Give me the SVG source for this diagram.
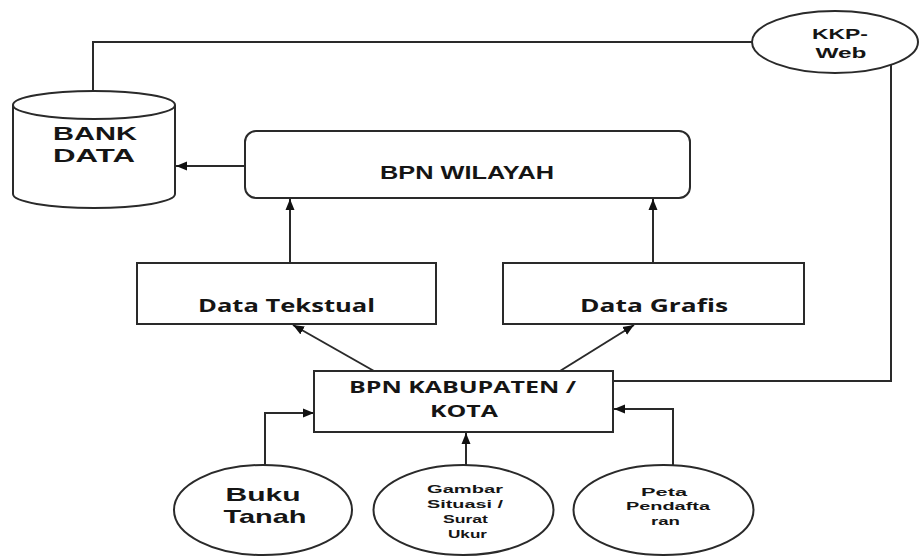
<svg xmlns="http://www.w3.org/2000/svg" width="919" height="556" viewBox="0 0 919 556">
<defs>
<marker id="ah" markerUnits="userSpaceOnUse" markerWidth="12" markerHeight="10" refX="11" refY="5" orient="auto">
<path d="M0,0.5 L11,5 L0,9.5 z" fill="#111"/>
</marker>
<style>
.s{fill:#fff;stroke:#2a2a2a;stroke-width:2}
.c{fill:none;stroke:#2a2a2a;stroke-width:2}
.a{fill:none;stroke:#2a2a2a;stroke-width:2;marker-end:url(#ah)}
.t{font-family:"Liberation Sans",Arial,sans-serif;font-weight:bold;fill:#151515;text-anchor:middle}
.o{font-family:"Open Sans","Liberation Sans",sans-serif;font-weight:bold;fill:#151515;text-anchor:middle}
</style>
</defs>
<rect width="919" height="556" fill="#fff"/>
<g id="connectors">
<polyline class="c" points="93,91 93,42 760,42"/>
<polyline class="c" points="891,64 891,381 613,381"/>
<line class="a" x1="245" y1="166" x2="176" y2="166"/>
<line class="a" x1="290" y1="263" x2="290" y2="199"/>
<line class="a" x1="653" y1="263" x2="653" y2="199"/>
<line class="a" x1="374" y1="371" x2="293" y2="325"/>
<line class="a" x1="560" y1="371" x2="634" y2="325"/>
<polyline class="a" points="265,465 265,413 314,413"/>
<line class="a" x1="466" y1="465" x2="466" y2="433"/>
<polyline class="a" points="673,465 673,409 614,409"/>
</g>
<g id="bank-data">
<path class="s" d="M13,105 L13,194 A81,14 0 0 0 175,194 L175,105 A81,14 0 0 0 13,105 Z"/>
<path class="c" d="M13,105 A81,14 0 0 0 175,105"/>
<text class="t" x="95" y="140" font-size="18" textLength="84" lengthAdjust="spacingAndGlyphs">BANK</text>
<text class="t" x="94" y="162" font-size="18" textLength="82" lengthAdjust="spacingAndGlyphs">DATA</text>
</g>
<g id="kkp-web">
<ellipse class="s" cx="835" cy="42" rx="83" ry="31"/>
<text class="t" x="840" y="39" font-size="15.5" textLength="56" lengthAdjust="spacingAndGlyphs">KKP-</text>
<text class="t" x="841" y="58" font-size="15.5" textLength="51" lengthAdjust="spacingAndGlyphs">Web</text>
</g>
<g id="bpn-wilayah">
<rect class="s" x="245" y="131" width="445" height="67" rx="11"/>
<text class="t" x="467" y="179" font-size="17.5" textLength="174" lengthAdjust="spacingAndGlyphs">BPN WILAYAH</text>
</g>
<g id="data-tekstual">
<rect class="s" x="137" y="263" width="299" height="61"/>
<text class="o" x="286.5" y="312" font-size="17" textLength="177" lengthAdjust="spacingAndGlyphs">Data Tekstual</text>
</g>
<g id="data-grafis">
<rect class="s" x="503" y="263" width="301" height="61"/>
<text class="o" x="654" y="312" font-size="17" textLength="148" lengthAdjust="spacingAndGlyphs">Data Grafis</text>
</g>
<g id="bpn-kabupaten">
<rect class="s" x="314" y="371" width="299" height="61"/>
<text class="o" x="462.5" y="393" font-size="16" textLength="227" lengthAdjust="spacingAndGlyphs">BPN KABUPATEN /</text>
<text class="o" x="464" y="417" font-size="16" textLength="68" lengthAdjust="spacingAndGlyphs">KOTA</text>
</g>
<g id="buku-tanah">
<ellipse class="s" cx="263" cy="510" rx="89" ry="45"/>
<text class="t" x="263" y="501" font-size="18.5" textLength="75" lengthAdjust="spacingAndGlyphs">Buku</text>
<text class="t" x="265" y="523" font-size="18.5" textLength="83" lengthAdjust="spacingAndGlyphs">Tanah</text>
</g>
<g id="gambar-situasi">
<ellipse class="s" cx="463.5" cy="510" rx="90" ry="45"/>
<text class="t" x="465" y="493" font-size="11.5" textLength="76" lengthAdjust="spacingAndGlyphs">Gambar</text>
<text class="t" x="465" y="508" font-size="11.5" textLength="76" lengthAdjust="spacingAndGlyphs">Situasi /</text>
<text class="t" x="465.5" y="523" font-size="11.5" textLength="45" lengthAdjust="spacingAndGlyphs">Surat</text>
<text class="t" x="467.5" y="538" font-size="11.5" textLength="39" lengthAdjust="spacingAndGlyphs">Ukur</text>
</g>
<g id="peta-pendaftaran">
<ellipse class="s" cx="663.5" cy="510" rx="90" ry="45"/>
<text class="t" x="664" y="496" font-size="11.5" textLength="46" lengthAdjust="spacingAndGlyphs">Peta</text>
<text class="t" x="668" y="510" font-size="11.5" textLength="84" lengthAdjust="spacingAndGlyphs">Pendafta</text>
<text class="t" x="665.5" y="525" font-size="11.5" textLength="29" lengthAdjust="spacingAndGlyphs">ran</text>
</g>
</svg>
